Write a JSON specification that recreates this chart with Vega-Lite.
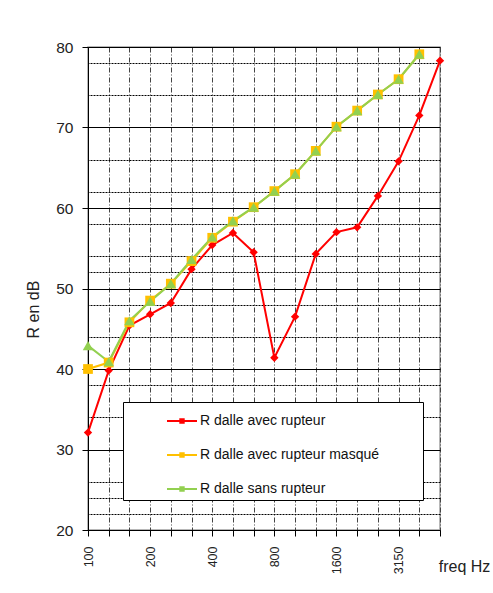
{
  "$schema": "https://vega.github.io/schema/vega-lite/v6.json",
  "width": 352,
  "height": 483,
  "autosize": "none",
  "padding": {"left": 88, "top": 47, "right": 53, "bottom": 63},
  "background": "white",
  "config": {
    "font": "Liberation Sans",
    "view": {"stroke": "#a0a0a0", "strokeWidth": 1.5}
  },
  "data": {
    "values": [
      {"f": "100", "s": "R dalle avec rupteur", "r": 32.1},
      {"f": "125", "s": "R dalle avec rupteur", "r": 39.8},
      {"f": "160", "s": "R dalle avec rupteur", "r": 45.4},
      {"f": "200", "s": "R dalle avec rupteur", "r": 46.8},
      {"f": "250", "s": "R dalle avec rupteur", "r": 48.2},
      {"f": "315", "s": "R dalle avec rupteur", "r": 52.4},
      {"f": "400", "s": "R dalle avec rupteur", "r": 55.4},
      {"f": "500", "s": "R dalle avec rupteur", "r": 56.9},
      {"f": "630", "s": "R dalle avec rupteur", "r": 54.5},
      {"f": "800", "s": "R dalle avec rupteur", "r": 41.4},
      {"f": "1000", "s": "R dalle avec rupteur", "r": 46.5},
      {"f": "1250", "s": "R dalle avec rupteur", "r": 54.3},
      {"f": "1600", "s": "R dalle avec rupteur", "r": 57.0},
      {"f": "2000", "s": "R dalle avec rupteur", "r": 57.6},
      {"f": "2500", "s": "R dalle avec rupteur", "r": 61.5},
      {"f": "3150", "s": "R dalle avec rupteur", "r": 65.8},
      {"f": "4000", "s": "R dalle avec rupteur", "r": 71.5},
      {"f": "5000", "s": "R dalle avec rupteur", "r": 78.3},
      {"f": "100", "s": "R dalle avec rupteur masqué", "r": 40.0},
      {"f": "125", "s": "R dalle avec rupteur masqué", "r": 40.8},
      {"f": "160", "s": "R dalle avec rupteur masqué", "r": 45.8},
      {"f": "200", "s": "R dalle avec rupteur masqué", "r": 48.5},
      {"f": "250", "s": "R dalle avec rupteur masqué", "r": 50.6},
      {"f": "315", "s": "R dalle avec rupteur masqué", "r": 53.4},
      {"f": "400", "s": "R dalle avec rupteur masqué", "r": 56.3},
      {"f": "500", "s": "R dalle avec rupteur masqué", "r": 58.3},
      {"f": "630", "s": "R dalle avec rupteur masqué", "r": 60.1},
      {"f": "800", "s": "R dalle avec rupteur masqué", "r": 62.1},
      {"f": "1000", "s": "R dalle avec rupteur masqué", "r": 64.2},
      {"f": "1250", "s": "R dalle avec rupteur masqué", "r": 67.1},
      {"f": "1600", "s": "R dalle avec rupteur masqué", "r": 70.1},
      {"f": "2000", "s": "R dalle avec rupteur masqué", "r": 72.1},
      {"f": "2500", "s": "R dalle avec rupteur masqué", "r": 74.1},
      {"f": "3150", "s": "R dalle avec rupteur masqué", "r": 76.0},
      {"f": "4000", "s": "R dalle avec rupteur masqué", "r": 79.1},
      {"f": "100", "s": "R dalle sans rupteur", "r": 42.9},
      {"f": "125", "s": "R dalle sans rupteur", "r": 40.9},
      {"f": "160", "s": "R dalle sans rupteur", "r": 46.0},
      {"f": "200", "s": "R dalle sans rupteur", "r": 48.4},
      {"f": "250", "s": "R dalle sans rupteur", "r": 50.6},
      {"f": "315", "s": "R dalle sans rupteur", "r": 53.6},
      {"f": "400", "s": "R dalle sans rupteur", "r": 56.4},
      {"f": "500", "s": "R dalle sans rupteur", "r": 58.4},
      {"f": "630", "s": "R dalle sans rupteur", "r": 60.1},
      {"f": "800", "s": "R dalle sans rupteur", "r": 62.1},
      {"f": "1000", "s": "R dalle sans rupteur", "r": 64.2},
      {"f": "1250", "s": "R dalle sans rupteur", "r": 67.1},
      {"f": "1600", "s": "R dalle sans rupteur", "r": 70.1},
      {"f": "2000", "s": "R dalle sans rupteur", "r": 72.1},
      {"f": "2500", "s": "R dalle sans rupteur", "r": 74.1},
      {"f": "3150", "s": "R dalle sans rupteur", "r": 76.0},
      {"f": "4000", "s": "R dalle sans rupteur", "r": 79.1}
    ]
  },
  "encoding": {
    "x": {
      "field": "f",
      "type": "ordinal",
      "sort": null,
      "scale": {
        "type": "point",
        "padding": 0,
        "domain": ["100", "125", "160", "200", "250", "315", "400", "500", "630", "800", "1000", "1250", "1600", "2000", "2500", "3150", "4000", "5000"]
      },
      "axis": {
        "title": "freq Hz",
        "titleAngle": 0,
        "titleX": 376,
        "titleY": 36,
        "titleAlign": "center",
        "titleBaseline": "middle",
        "titleFontSize": 16,
        "titleFontWeight": "normal",
        "titleColor": "#222",
        "labelAngle": -90,
        "labelFontSize": 12.5,
        "labelColor": "#222",
        "labelPadding": 10,
        "labelExpr": "indexof(['100','200','400','800','1600','3150'], datum.label) >= 0 ? datum.label : ''",
        "tickSize": 6,
        "tickColor": "#000",
        "domainColor": "#000",
        "grid": true,
        "gridColor": "#444",
        "gridDash": [5, 2, 1, 2],
        "gridWidth": 1
      }
    },
    "y": {
      "field": "r",
      "type": "quantitative",
      "scale": {"domain": [20, 80], "nice": false}
    },
    "color": {
      "field": "s",
      "type": "nominal",
      "scale": {
        "domain": ["R dalle avec rupteur", "R dalle avec rupteur masqué", "R dalle sans rupteur"],
        "range": ["#ff0000", "#ffc000", "#92d050"]
      },
      "legend": {
        "orient": "none",
        "legendX": 35,
        "legendY": 355,
        "title": null,
        "fillColor": "white",
        "strokeColor": "#000",
        "padding": 4,
        "symbolType": "M-1,-0.07H1V0.07H-1Z M-0.18,-0.18H0.18V0.18H-0.18Z M15.8,0L15.8,0",
        "symbolSize": 900,
        "symbolStrokeWidth": 0,
        "symbolOffset": 40,
        "labelOffset": 3,
        "labelFontSize": 14,
        "labelLimit": 400,
        "labelColor": "#111",
        "rowPadding": 12
      }
    }
  },
  "layer": [
    {
      "mark": {"type": "line", "strokeWidth": 2},
      "encoding": {
        "y": {
          "field": "r",
          "type": "quantitative",
          "axis": {
            "title": "R en dB",
            "values": [20, 30, 40, 50, 60, 70, 80],
            "titleX": -55,
            "titleY": 262,
            "titleAlign": "center",
            "titleBaseline": "middle",
            "titleFontSize": 16,
            "titleFontWeight": "normal",
            "titleColor": "#222",
            "labelFontSize": 15.5,
            "labelColor": "#222",
            "labelPadding": 9,
            "tickSize": 6,
            "tickColor": "#000",
            "domainColor": "#000",
            "grid": true,
            "gridColor": "#000",
            "gridWidth": 1
          }
        }
      }
    },
    {
      "transform": [{"filter": "datum.s === 'R dalle avec rupteur'"}],
      "mark": {"type": "point", "shape": "diamond", "size": 70, "filled": true, "opacity": 1},
      "encoding": {
        "y": {
          "field": "r",
          "type": "quantitative",
          "axis": {
            "orient": "right",
            "values": [22, 24, 26, 34, 38, 44, 48, 52, 54, 58, 62, 66, 74, 78],
            "title": null,
            "labels": false,
            "ticks": false,
            "domain": false,
            "grid": true,
            "gridColor": "#000",
            "gridDash": [2, 1],
            "gridWidth": 1
          }
        }
      }
    },
    {
      "transform": [{"filter": "datum.s === 'R dalle avec rupteur masqué'"}],
      "mark": {"type": "point", "shape": "square", "size": 95, "filled": true, "opacity": 1},
      "encoding": {
        "y": {"field": "r", "type": "quantitative", "axis": null}
      }
    },
    {
      "transform": [{"filter": "datum.s === 'R dalle sans rupteur'"}],
      "mark": {"type": "point", "shape": "triangle-up", "size": 110, "filled": true, "opacity": 1},
      "encoding": {
        "y": {"field": "r", "type": "quantitative", "axis": null}
      }
    }
  ],
  "resolve": {"axis": {"y": "independent"}}
}
